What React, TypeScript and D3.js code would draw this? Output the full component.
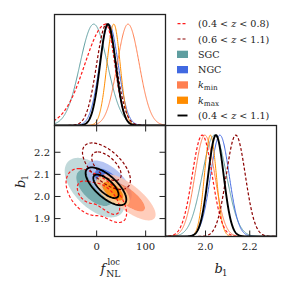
import React, { useMemo } from 'react';
import * as d3 from 'd3';

// ---------------- data ----------------
const seriesLabels = ['(0.4 < z < 0.8)', '(0.6 < z < 1.1)', 'SGC', 'NGC', 'kmin', 'kmax', '(0.4 < z < 1.1)'];
const seriesColors = ['#ff1a1a', '#8b0000', '#5f9ea0', '#4169e1', '#ff7f50', '#ff8c00', '#000000'];
const seriesFilled = [false, false, true, true, true, true, false];
const seriesDashed = [true, true, false, false, false, false, false];

// 1D marginal of f_NL: peak, left width, right width (per series)
const fnlPeak = [19, 20, -6, 25, 64, 35, 23];
const fnlWidthLeft = [43, 20, 28, 19, 22, 14, 16];
const fnlWidthRight = [18, 20, 28, 19, 23, 13, 16];
// 1D marginal of b1: peak, width (per series)
const b1Peak = [1.985, 2.137, 2.04, 2.065, 1.997, 2.022, 2.047];
const b1Width = [0.045, 0.043, 0.055, 0.042, 0.045, 0.027, 0.035];

// 2D Gaussian components (series index, weight, means, sigmas, correlation)
const compSeries = [0, 0, 1, 2, 3, 4, 5, 6];
const compWeight = [0.55, 0.45, 1, 1, 1, 1, 1, 1];
const compFnlMean = [22, -20, 20, -4, 25, 64, 33, 19];
const compFnlSigma = [16, 20, 20, 25, 19, 23, 14, 17];
const compB1Mean = [1.985, 2.02, 2.137, 2.04, 2.065, 1.997, 2.024, 2.046];
const compB1Sigma = [0.042, 0.05, 0.043, 0.055, 0.04, 0.043, 0.028, 0.035];
const compCorr = [-0.6, -0.4, -0.6, -0.55, -0.6, -0.75, -0.6, -0.7];

const fnlTicks = [0, 100];
const b1Ticks = [1.9, 2.0, 2.1, 2.2];
const b1XTicks = [2.0, 2.2];
const fnlDomain = [-86, 140.5];
const b1Domain = [1.819, 2.321];

// ---------------- layout ----------------
const L = 54.5, T = 14.5, C = 111;
const FONT = 'DejaVu Serif, serif';
const FRAME = '#222';

const NX = 260, NY = 260;
const F0 = -220, F1 = 330, B0 = 1.5, B1 = 2.65;
const dF = (F1 - F0) / (NX - 1);
const dB = (B1 - B0) / (NY - 1);

function density(s: number) {
  const vals = new Float64Array(NX * NY);
  compSeries.forEach((cs, k) => {
    if (cs !== s) return;
    const mf = compFnlMean[k], sf = compFnlSigma[k], mb = compB1Mean[k], sb = compB1Sigma[k], r = compCorr[k], w = compWeight[k];
    const norm = w / (sf * sb * Math.sqrt(1 - r * r));
    for (let j = 0; j < NY; j++) {
      const zb = (B0 + j * dB - mb) / sb;
      for (let i = 0; i < NX; i++) {
        const zf = (F0 + i * dF - mf) / sf;
        const q = (zf * zf - 2 * r * zf * zb + zb * zb) / (1 - r * r);
        vals[j * NX + i] += norm * Math.exp(-0.5 * q);
      }
    }
  });
  return vals;
}

function levels(vals: Float64Array) {
  const sorted = Array.from(vals).sort((a, b) => b - a);
  const total = d3.sum(sorted);
  let cum = 0, t68 = 0, t95 = 0, got68 = false;
  for (const v of sorted) {
    cum += v;
    if (!got68 && cum >= 0.68 * total) { t68 = v; got68 = true; }
    if (cum >= 0.95 * total) { t95 = v; break; }
  }
  return [t95, t68];
}

function lighten(c: string, f: number) {
  const col = d3.rgb(c);
  return d3.rgb(col.r + (255 - col.r) * f, col.g + (255 - col.g) * f, col.b + (255 - col.b) * f).formatHex();
}

const twoPiece = (x: number, m: number, sl: number, sr: number) => {
  const z = (x - m) / (x < m ? sl : sr);
  return Math.exp(-0.5 * z * z);
};

export default function App() {
  const fX = d3.scaleLinear().domain(fnlDomain).range([L, L + C]);
  const bY = d3.scaleLinear().domain(b1Domain).range([T + 2 * C, T + C]);
  const bX = d3.scaleLinear().domain(b1Domain).range([L + C, L + 2 * C]);
  const yTop = d3.scaleLinear().domain([0, 1.095]).range([T + C, T]);
  const yBR = d3.scaleLinear().domain([0, 1.095]).range([T + 2 * C, T + C]);

  const contours = useMemo(() => {
    return seriesLabels.map((_, s) => {
      if (!compSeries.includes(s)) return null;
      const vals = density(s);
      const [t95, t68] = levels(vals);
      return d3.contours().size([NX, NY]).thresholds([t95, t68])(Array.from(vals));
    });
  }, []);

  const proj = d3.geoTransform({
    point(x: number, y: number) {
      (this as any).stream.point(fX(F0 + (x - 0.5) * dF), bY(B0 + (y - 0.5) * dB));
    },
  });
  const geo = d3.geoPath(proj);

  const fSamples = d3.range(fnlDomain[0] - 2, fnlDomain[1] + 2, 0.5);
  const bSamples = d3.range(b1Domain[0] - 0.01, b1Domain[1] + 0.01, 0.001);
  const fLine = (s: number) =>
    d3.line<number>().x(f => fX(f)).y(f => yTop(twoPiece(f, fnlPeak[s], fnlWidthLeft[s], fnlWidthRight[s])))(fSamples) || '';
  const bLine = (s: number) =>
    d3.line<number>().x(b => bX(b)).y(b => yBR(twoPiece(b, b1Peak[s], b1Width[s], b1Width[s])))(bSamples) || '';

  const order1D = [2, 3, 4, 5, 0, 1, 6];
  const fillOrder = [2, 3, 4, 5];
  const lineOrder = [0, 1, 6];
  const lw = (s: number) => (s === 6 ? 1.9 : seriesDashed[s] ? 1.2 : 1);
  const dash = (s: number) => (seriesDashed[s] ? '3,2' : undefined);

  const legendY0 = 23.7, legendDy = 15.3;

  const renderLabel = (s: number) => {
    const lab = seriesLabels[s];
    if (lab === 'kmin' || lab === 'kmax') {
      return (
        <>
          <tspan fontStyle="italic">k</tspan>
          <tspan fontSize={7.3} dy={2}>{lab.slice(1)}</tspan>
        </>
      );
    }
    if (lab.includes('z')) {
      const [a, b] = lab.split('z');
      return (
        <>
          <tspan>{a}</tspan>
          <tspan fontStyle="italic">z</tspan>
          <tspan>{b}</tspan>
        </>
      );
    }
    return lab;
  };

  return (
    <svg width={291} height={291} style={{ display: 'block', position: 'absolute', left: 0, top: 0 }} fontFamily={FONT}>
      <defs>
        <clipPath id="cTL"><rect x={L} y={T} width={C} height={C} /></clipPath>
        <clipPath id="cBL"><rect x={L} y={T + C} width={C} height={C} /></clipPath>
        <clipPath id="cBR"><rect x={L + C} y={T + C} width={C} height={C} /></clipPath>
      </defs>
      <rect x={0} y={0} width={291} height={291} fill="#fff" />

      {/* top-left: fNL marginals */}
      <g clipPath="url(#cTL)">
        {order1D.map(s => (
          <path key={s} d={fLine(s)} fill="none" stroke={seriesColors[s]}
            strokeWidth={lw(s)} strokeDasharray={dash(s)} />
        ))}
      </g>

      {/* bottom-left: 2D contours */}
      <g clipPath="url(#cBL)">
        {fillOrder.map(s => {
          const c = contours[s]!;
          return (
            <g key={s} opacity={0.85}>
              <path d={(geo(c[0] as any) || '') + (geo(c[1] as any) || '')} fill={lighten(seriesColors[s], 0.55)} fillRule="evenodd" />
              <path d={geo(c[1] as any) || ''} fill={seriesColors[s]} />
            </g>
          );
        })}
        {lineOrder.map(s => {
          const c = contours[s]!;
          return (
            <g key={s} fill="none" stroke={seriesColors[s]} strokeWidth={s === 6 ? 1.8 : 1.2} strokeDasharray={dash(s)}>
              <path d={geo(c[0] as any) || ''} />
              <path d={geo(c[1] as any) || ''} />
            </g>
          );
        })}
      </g>

      {/* bottom-right: b1 marginals */}
      <g clipPath="url(#cBR)">
        {order1D.map(s => (
          <path key={s} d={bLine(s)} fill="none" stroke={seriesColors[s]}
            strokeWidth={lw(s)} strokeDasharray={dash(s)} />
        ))}
      </g>

      {/* ticks */}
      <g stroke={FRAME} strokeWidth={1}>
        {fnlTicks.map(t => (
          <g key={'f' + t}>
            <line x1={fX(t)} x2={fX(t)} y1={T + C} y2={T + C - 6} />
            <line x1={fX(t)} x2={fX(t)} y1={T + C} y2={T + C + 6} />
            <line x1={fX(t)} x2={fX(t)} y1={T + 2 * C} y2={T + 2 * C - 6} />
          </g>
        ))}
        {b1Ticks.map(t => (
          <g key={'b' + t}>
            <line x1={L} x2={L + 6} y1={bY(t)} y2={bY(t)} />
            <line x1={L + C} x2={L + C - 6} y1={bY(t)} y2={bY(t)} />
          </g>
        ))}
        {b1XTicks.map(t => (
          <line key={'bx' + t} x1={bX(t)} x2={bX(t)} y1={T + 2 * C} y2={T + 2 * C - 6} />
        ))}
      </g>

      {/* frames */}
      <g fill="none" stroke={FRAME} strokeWidth={1.3}>
        <rect x={L} y={T} width={C} height={C} />
        <rect x={L} y={T + C} width={C} height={C} />
        <rect x={L + C} y={T + C} width={C} height={C} />
      </g>

      {/* tick labels */}
      <g fontSize={10} fill="#222">
        {fnlTicks.map(t => (
          <text key={'fl' + t} x={fX(t)} y={250.3} textAnchor="middle">{t}</text>
        ))}
        {b1XTicks.map(t => (
          <text key={'bxl' + t} x={bX(t)} y={250.3} textAnchor="middle">{d3.format('.1f')(t)}</text>
        ))}
        {b1Ticks.map(t => (
          <text key={'byl' + t} x={50} y={bY(t) + 3.6} textAnchor="end">{d3.format('.1f')(t)}</text>
        ))}
      </g>

      {/* axis labels */}
      <g fill="#222">
        <text x={100.5} y={273} fontSize={13}>
          <tspan fontStyle="italic">f</tspan>
          <tspan x={107.5} y={265.4} fontSize={8.3}>loc</tspan>
          <tspan x={106.3} y={277.2} fontSize={9.2}>NL</tspan>
        </text>
        <text x={214.5} y={273.3} fontSize={13}>
          <tspan fontStyle="italic">b</tspan>
          <tspan x={222} y={276.3} fontSize={8.5}>1</tspan>
        </text>
        <g transform="translate(25,188) rotate(-90)">
          <text x={0} y={0} fontSize={13}>
            <tspan fontStyle="italic">b</tspan>
            <tspan x={7.6} y={3.2} fontSize={8.5}>1</tspan>
          </text>
        </g>
      </g>

      {/* legend */}
      <g fontSize={9.6} fill="#222">
        {seriesLabels.map((lab, s) => {
          const y = legendY0 + s * legendDy;
          return (
            <g key={'lg' + s}>
              {seriesFilled[s] ? (
                <rect x={177} y={y - 3.6} width={11} height={7.3} fill={seriesColors[s]} />
              ) : (
                <line x1={177.5} x2={187.5} y1={y} y2={y} stroke={seriesColors[s]}
                  strokeWidth={s === 6 ? 1.9 : 1.2} strokeDasharray={dash(s)} />
              )}
              <text x={198} y={y + 3.5}>{renderLabel(s)}</text>
            </g>
          );
        })}
      </g>
    </svg>
  );
}
